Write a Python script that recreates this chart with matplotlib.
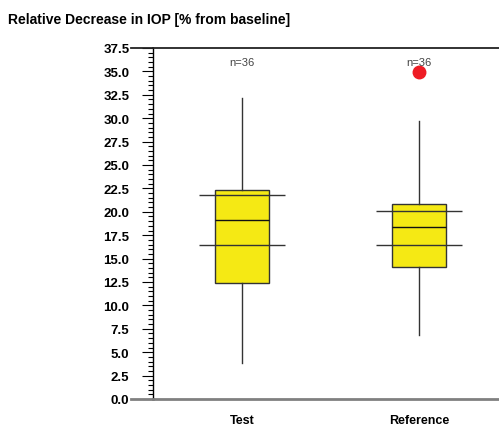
#!/usr/bin/env python3
"""Box plot of relative IOP decrease, Test vs Reference."""

import matplotlib
matplotlib.use('Agg')
import matplotlib.pyplot as plt
from matplotlib.ticker import MultipleLocator, FormatStrFormatter

plt.rcParams['font.family'] = ['Liberation Sans', 'DejaVu Sans']

# Data
groups = ['Test', 'Reference']
n_counts = [36, 36]
q1 = [12.4, 14.1]
medians = [19.1, 18.4]
q3 = [22.3, 20.8]
whisker_low = [3.85, 6.8]
whisker_high = [32.2, 29.7]
outliers = [[], [34.9]]
# long horizontal lines (upper / lower) drawn across each box
band_upper = [21.8, 20.1]
band_lower = [16.45, 16.45]

positions = [1, 2]

fig = plt.figure(figsize=(4.99, 4.27), dpi=100)
ax = fig.add_axes([153 / 499, 27 / 427, 346 / 499, 351 / 427])

stats = []
for i, g in enumerate(groups):
    stats.append({
        'label': g,
        'q1': q1[i], 'med': medians[i], 'q3': q3[i],
        'whislo': whisker_low[i], 'whishi': whisker_high[i],
        'fliers': outliers[i],
    })

ax.bxp(stats, positions=positions, widths=0.3, patch_artist=True,
       showcaps=False,
       boxprops=dict(facecolor='#f5e914', edgecolor='#333333', linewidth=1.0),
       medianprops=dict(color='#111111', linewidth=1.0),
       whiskerprops=dict(color='#333333', linewidth=1.0),
       flierprops=dict(marker='o', markersize=9, markerfacecolor='#ee1c24',
                       markeredgecolor='#ee1c24'))

# long horizontal lines across each box
for p, hi, lo in zip(positions, band_upper, band_lower):
    ax.hlines([hi, lo], p - 0.245, p + 0.245, color='#333333', linewidth=1.0, zorder=3)

# n= labels
for p, n in zip(positions, n_counts):
    ax.text(p, 36.0, f'n={n}', ha='center', va='center', fontsize=8, color='#444444')

ax.set_xlim(0.497, 2.452)
ax.set_ylim(0, 37.5)

ax.yaxis.set_major_locator(MultipleLocator(2.5))
ax.yaxis.set_minor_locator(MultipleLocator(0.5))
ax.yaxis.set_major_formatter(FormatStrFormatter('%.1f'))
ax.tick_params(axis='y', which='major', length=8, width=0.8, pad=9,
               labelsize=9.5, direction='out')
ax.tick_params(axis='y', which='minor', length=3.6, width=0.8, direction='out')
for lbl in ax.get_yticklabels():
    lbl.set_fontweight('bold')

ax.set_xticks(positions)
ax.set_xticklabels(groups, fontsize=9, fontweight='bold')
ax.tick_params(axis='x', length=0, pad=11)

ax.spines['right'].set_visible(False)
ax.spines['top'].set_color('#222222')
ax.spines['top'].set_linewidth(1.3)
ax.spines['bottom'].set_color('#808080')
ax.spines['bottom'].set_linewidth(2.0)
ax.spines['left'].set_linewidth(1.0)

# extend top and bottom lines a little left of the axis
ax.plot([-0.063, 0], [1, 1], transform=ax.transAxes, color='#222222',
        linewidth=1.3, clip_on=False)
ax.plot([-0.063, 0], [0, 0], transform=ax.transAxes, color='#808080',
        linewidth=2.0, clip_on=False)

fig.text(8 / 499, 1 - 20 / 427, 'Relative Decrease in IOP [% from baseline]',
         ha='left', va='center', fontsize=10, fontweight='bold')

fig.savefig('out.png', dpi=100)
